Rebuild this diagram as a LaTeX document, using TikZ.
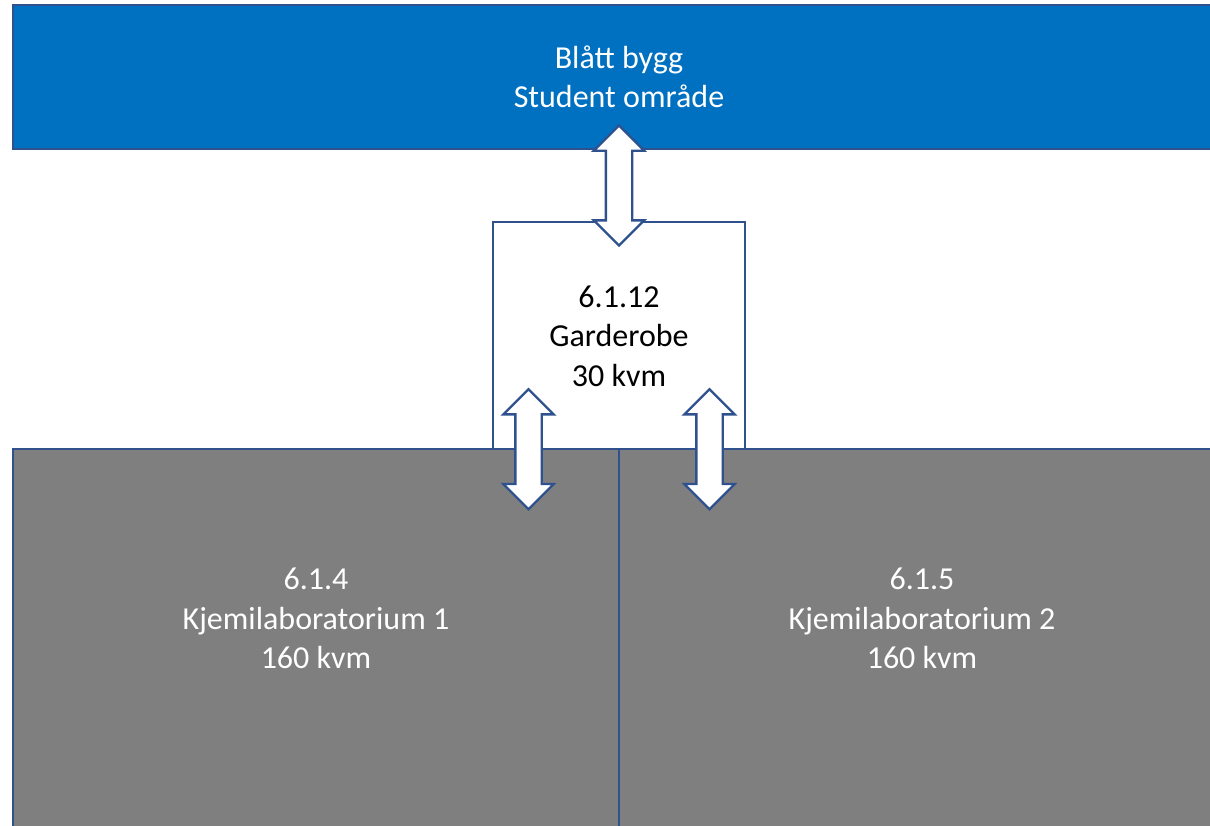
\documentclass[tikz,border=0pt]{standalone}
\usepackage{fontspec}
\setmainfont{Carlito}
\usetikzlibrary{shapes.arrows,calc}
\definecolor{edgeblue}{HTML}{2F528F}
\definecolor{barblue}{HTML}{0070C0}
\definecolor{labgray}{HTML}{7F7F7F}

\begin{document}
\begin{tikzpicture}[x=1pt,y=-1pt,line width=2.4pt,
  room/.style={rectangle,draw=edgeblue,inner sep=0pt,font=\fontsize{32}{39.5}\selectfont,align=center},
  roomtext/.style={align=center,inner sep=0pt,text=white,font=\fontsize{32}{39.5}\selectfont},
  passage/.style={double arrow,draw=edgeblue,fill=white,rotate=90,inner xsep=0pt,inner ysep=12pt,
    double arrow head extend=12pt,minimum height=120pt}]

  \path[use as bounding box,clip] (0,0) rectangle (1210,825);

  \node[room,fill=barblue,text=white,minimum width=1212pt,minimum height=144pt] (blue) at (619,77) {Blått bygg\\Student område};
  \node[room,fill=white,minimum width=252pt,minimum height=228pt] (gard) at (619,336) {6.1.12\\Garderobe\\30 kvm};
  \node[room,fill=labgray,minimum width=606pt,minimum height=420pt] (lab1) at (316,659) {};
  \node[room,fill=labgray,minimum width=606pt,minimum height=420pt] (lab2) at (922,659) {};
  \node[roomtext] (lab1txt) at ([yshift=-171pt]lab1.north) {6.1.4\\Kjemilaboratorium 1\\160 kvm};
  \node[roomtext] (lab2txt) at ([yshift=-171pt]lab2.north) {6.1.5\\Kjemilaboratorium 2\\160 kvm};

  % doors
  \node[passage] (door1) at ($(blue.south)!0.5!(gard.north)$) {};
  \node[passage] (door2) at ([xshift=-90.5pt,yshift=2pt]gard.south) {};
  \node[passage] (door3) at ([xshift=90.5pt,yshift=2pt]gard.south) {};
\end{tikzpicture}
\end{document}
